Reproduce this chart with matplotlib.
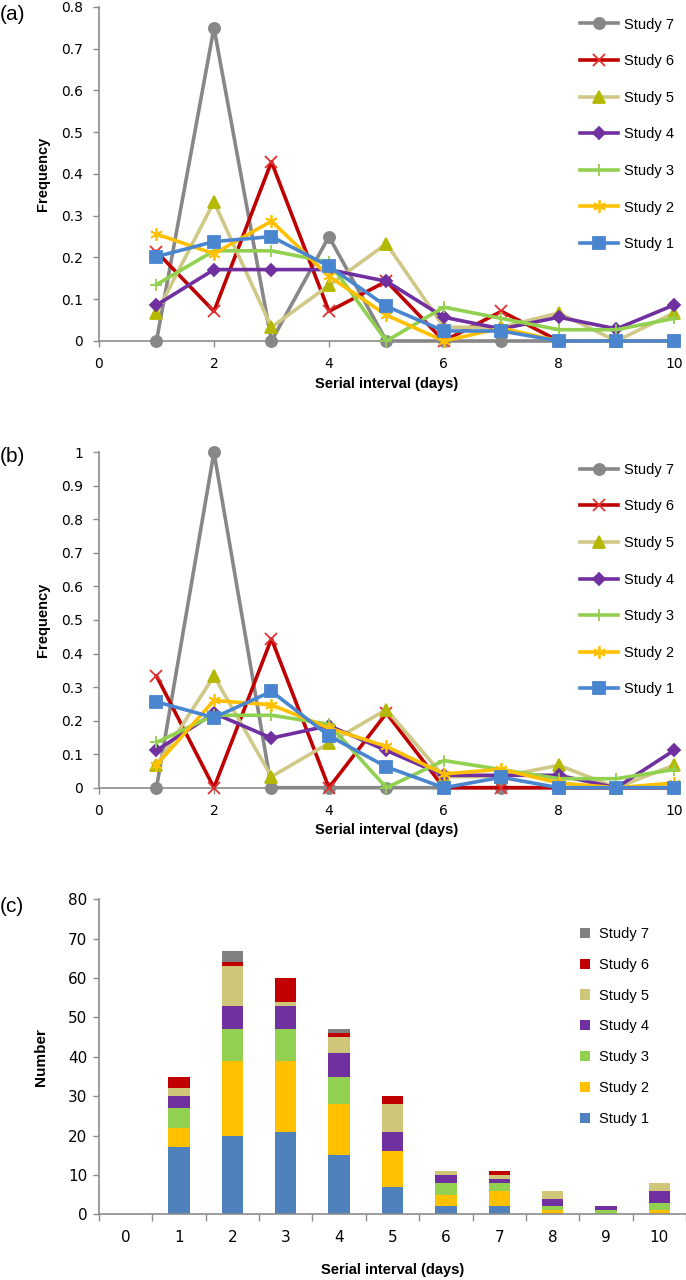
import matplotlib
matplotlib.use("Agg")
import matplotlib.pyplot as plt
import numpy as np

plt.rcParams['font.family'] = ['DejaVu Sans']
txt_font = "Liberation Sans"

# serial interval, days
days = [1, 2, 3, 4, 5, 6, 7, 8, 9, 10]
studies = ["Study 7", "Study 6", "Study 5", "Study 4", "Study 3", "Study 2", "Study 1"]

# (a) frequency
freq_a = {
    "Study 7": [0, 0.75, 0, 0.25, 0, 0, 0, 0, 0, 0],
    "Study 6": [0.214, 0.071, 0.429, 0.071, 0.143, 0, 0.071, 0, 0, 0],
    "Study 5": [0.067, 0.333, 0.033, 0.133, 0.233, 0.033, 0.033, 0.067, 0, 0.067],
    "Study 4": [0.086, 0.171, 0.171, 0.171, 0.143, 0.057, 0.029, 0.057, 0.029, 0.086],
    "Study 3": [0.135, 0.216, 0.216, 0.189, 0, 0.081, 0.054, 0.027, 0.027, 0.054],
    "Study 2": [0.256, 0.209, 0.287, 0.155, 0.062, 0, 0.031, 0, 0, 0],
    "Study 1": [0.202, 0.238, 0.25, 0.179, 0.083, 0.024, 0.024, 0, 0, 0],
}

# (b) frequency
freq_b = {
    "Study 7": [0, 1.0, 0, 0, 0, 0, 0, 0, 0, 0],
    "Study 6": [0.333, 0, 0.444, 0, 0.222, 0, 0, 0, 0, 0],
    "Study 5": [0.067, 0.333, 0.033, 0.133, 0.233, 0.033, 0.033, 0.067, 0, 0.067],
    "Study 4": [0.111, 0.222, 0.148, 0.185, 0.111, 0.037, 0.037, 0.037, 0, 0.111],
    "Study 3": [0.135, 0.216, 0.216, 0.189, 0, 0.081, 0.054, 0.027, 0.027, 0.054],
    "Study 2": [0.068, 0.26, 0.247, 0.178, 0.123, 0.041, 0.055, 0.014, 0, 0.014],
    "Study 1": [0.256, 0.209, 0.287, 0.155, 0.062, 0, 0.031, 0, 0, 0],
}

# (c) number of pairs, days 0..10
bar_days = [0, 1, 2, 3, 4, 5, 6, 7, 8, 9, 10]
counts = {
    "Study 1": [0, 17, 20, 21, 15, 7, 2, 2, 0, 0, 0],
    "Study 2": [0, 5, 19, 18, 13, 9, 3, 4, 1, 0, 1],
    "Study 3": [0, 5, 8, 8, 7, 0, 3, 2, 1, 1, 2],
    "Study 4": [0, 3, 6, 6, 6, 5, 2, 1, 2, 1, 3],
    "Study 5": [0, 2, 10, 1, 4, 7, 1, 1, 2, 0, 2],
    "Study 6": [0, 3, 1, 6, 1, 2, 0, 1, 0, 0, 0],
    "Study 7": [0, 0, 3, 0, 1, 0, 0, 0, 0, 0, 0],
}

# line colour, marker, marker face, marker edge, marker size
style = {
    "Study 7": ("#878787", "o", "#878787", "#878787", 8),
    "Study 6": ("#C00000", "x", "none", "#E03030", 8),
    "Study 5": ("#CFC887", "^", "#B5B800", "#B5B800", 8),
    "Study 4": ("#7030A0", "D", "#7030A0", "#7030A0", 6),
    "Study 3": ("#92D050", "+", "none", "#92D050", 9),
    "Study 2": ("#FFC000", (6, 2, 0), "none", "#FFC000", 9),
    "Study 1": ("#4A86D0", "s", "#4A86D0", "#4A86D0", 8),
}
bar_col = {
    "Study 1": "#4F81BD", "Study 2": "#FFC000", "Study 3": "#92D050",
    "Study 4": "#7030A0", "Study 5": "#D0C67A", "Study 6": "#C00000",
    "Study 7": "#808080",
}

axis_gray = "#8C8C8C"

fig = plt.figure(figsize=(6.86, 12.8), dpi=100)


def style_axes(ax, size, pad):
    for s in ["top", "right"]:
        ax.spines[s].set_visible(False)
    for s in ["left", "bottom"]:
        ax.spines[s].set_color(axis_gray)
        ax.spines[s].set_linewidth(1.2)
    ax.tick_params(colors=axis_gray, labelcolor="black", labelsize=size,
                   length=4.5, width=1, pad=pad)


def line_panel(rect, data, ymax, label, ytop_px):
    ax = fig.add_axes(rect)
    for st in studies:
        c, m, fc, ec, ms = style[st]
        ax.plot(days, data[st], color=c, lw=2.6, marker=m, markerfacecolor=fc,
                markeredgecolor=ec, markersize=ms, markeredgewidth=1.3,
                label=st, clip_on=False, zorder=3)
    ax.set_xlim(0, 10)
    ax.set_ylim(0, ymax)
    yt = np.round(np.arange(0, ymax + 0.01, 0.1), 1)
    ax.set_xticks([0, 2, 4, 6, 8, 10])
    ax.set_yticks(yt)
    ax.set_yticklabels(["%g" % v for v in yt])
    style_axes(ax, 10, 7)
    ax.set_ylabel("Frequency", fontsize=10.5, fontweight="bold", labelpad=8,
                  family=txt_font)
    ax.set_xlabel("Serial interval (days)", fontsize=10.5, fontweight="bold",
                  labelpad=4, family=txt_font)
    ax.legend(loc="upper left", bbox_to_anchor=(0.824, 0.99), frameon=False,
              prop={"family": txt_font, "size": 10.5}, labelspacing=1.55,
              handlelength=2.6, handletextpad=0.4, borderpad=0)
    fig.text(0.0, ytop_px, label, fontsize=15, va="center", ha="left", family=txt_font)
    return ax


line_panel([0.1443, 0.7336, 0.838, 0.261], freq_a, 0.8, "(a)", 1 - 14 / 1280)
line_panel([0.1443, 0.3846, 0.838, 0.2621], freq_b, 1.0, "(b)", 1 - 457 / 1280)

# (c) stacked bars
axc = fig.add_axes([0.1443, 0.0513, 0.8557, 0.2461])
bottom = np.zeros(len(bar_days))
order = ["Study 1", "Study 2", "Study 3", "Study 4", "Study 5", "Study 6", "Study 7"]
handles = {}
for st in order:
    vals = np.array(counts[st], dtype=float)
    h = axc.bar(bar_days, vals, width=0.4, bottom=bottom, color=bar_col[st], label=st, zorder=2)
    handles[st] = h
    bottom += vals
axc.set_xlim(-0.5, 10.5)
axc.set_ylim(0, 80)
axc.set_yticks(range(0, 81, 10))
axc.set_xticks(bar_days)
axc.set_xticks(np.arange(-0.5, 10.6, 1), minor=True)
style_axes(axc, 11, 4)
axc.tick_params(axis="x", which="major", length=0, pad=11)
axc.tick_params(axis="x", which="minor", length=5, width=1, colors=axis_gray)
axc.set_ylabel("Number", fontsize=11, fontweight="bold", labelpad=14, family=txt_font)
axc.set_xlabel("Serial interval (days)", fontsize=10.5, fontweight="bold",
               labelpad=13, family=txt_font)
axc.legend([handles[s] for s in studies], studies, loc="upper left",
           bbox_to_anchor=(0.807, 0.935), frameon=False,
           prop={"family": txt_font, "size": 10.5},
           labelspacing=1.15, handlelength=0.7, handleheight=0.7,
           handletextpad=0.6, borderpad=0)
fig.text(0.0, 1 - 907 / 1280, "(c)", fontsize=15, va="center", ha="left", family=txt_font)

fig.savefig("out.png", dpi=100)
